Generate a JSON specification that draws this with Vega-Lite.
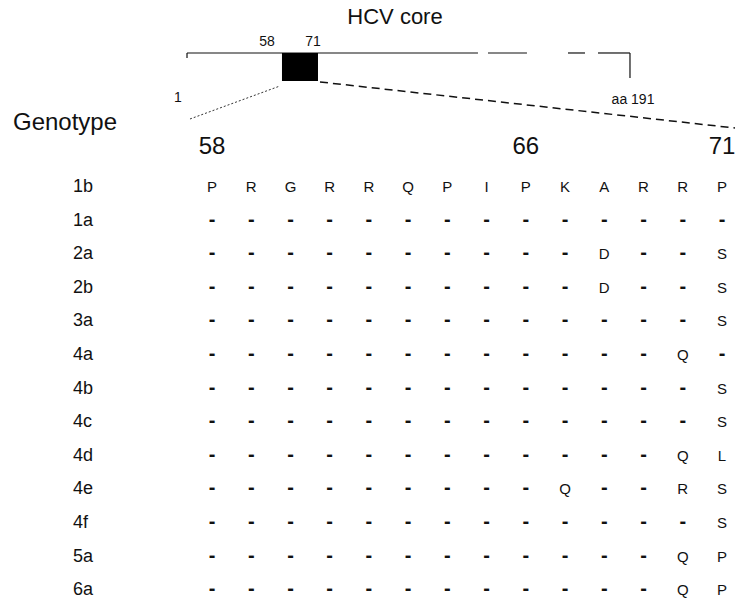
{
  "$schema": "https://vega.github.io/schema/vega-lite/v6.json",
  "width": 737,
  "height": 600,
  "padding": 0,
  "autosize": {"type": "none"},
  "background": "white",
  "config": {"view": {"stroke": null}, "text": {"font": "Liberation Sans", "color": "#111"}},
  "datasets": {
    "cells": [
      {"g":"1b","i":0,"p":58,"a":"P"},{"g":"1b","i":0,"p":59,"a":"R"},{"g":"1b","i":0,"p":60,"a":"G"},{"g":"1b","i":0,"p":61,"a":"R"},{"g":"1b","i":0,"p":62,"a":"R"},{"g":"1b","i":0,"p":63,"a":"Q"},{"g":"1b","i":0,"p":64,"a":"P"},{"g":"1b","i":0,"p":65,"a":"I"},{"g":"1b","i":0,"p":66,"a":"P"},{"g":"1b","i":0,"p":67,"a":"K"},{"g":"1b","i":0,"p":68,"a":"A"},{"g":"1b","i":0,"p":69,"a":"R"},{"g":"1b","i":0,"p":70,"a":"R"},{"g":"1b","i":0,"p":71,"a":"P"},
      {"g":"1a","i":1,"p":58,"a":"-"},{"g":"1a","i":1,"p":59,"a":"-"},{"g":"1a","i":1,"p":60,"a":"-"},{"g":"1a","i":1,"p":61,"a":"-"},{"g":"1a","i":1,"p":62,"a":"-"},{"g":"1a","i":1,"p":63,"a":"-"},{"g":"1a","i":1,"p":64,"a":"-"},{"g":"1a","i":1,"p":65,"a":"-"},{"g":"1a","i":1,"p":66,"a":"-"},{"g":"1a","i":1,"p":67,"a":"-"},{"g":"1a","i":1,"p":68,"a":"-"},{"g":"1a","i":1,"p":69,"a":"-"},{"g":"1a","i":1,"p":70,"a":"-"},{"g":"1a","i":1,"p":71,"a":"-"},
      {"g":"2a","i":2,"p":58,"a":"-"},{"g":"2a","i":2,"p":59,"a":"-"},{"g":"2a","i":2,"p":60,"a":"-"},{"g":"2a","i":2,"p":61,"a":"-"},{"g":"2a","i":2,"p":62,"a":"-"},{"g":"2a","i":2,"p":63,"a":"-"},{"g":"2a","i":2,"p":64,"a":"-"},{"g":"2a","i":2,"p":65,"a":"-"},{"g":"2a","i":2,"p":66,"a":"-"},{"g":"2a","i":2,"p":67,"a":"-"},{"g":"2a","i":2,"p":68,"a":"D"},{"g":"2a","i":2,"p":69,"a":"-"},{"g":"2a","i":2,"p":70,"a":"-"},{"g":"2a","i":2,"p":71,"a":"S"},
      {"g":"2b","i":3,"p":58,"a":"-"},{"g":"2b","i":3,"p":59,"a":"-"},{"g":"2b","i":3,"p":60,"a":"-"},{"g":"2b","i":3,"p":61,"a":"-"},{"g":"2b","i":3,"p":62,"a":"-"},{"g":"2b","i":3,"p":63,"a":"-"},{"g":"2b","i":3,"p":64,"a":"-"},{"g":"2b","i":3,"p":65,"a":"-"},{"g":"2b","i":3,"p":66,"a":"-"},{"g":"2b","i":3,"p":67,"a":"-"},{"g":"2b","i":3,"p":68,"a":"D"},{"g":"2b","i":3,"p":69,"a":"-"},{"g":"2b","i":3,"p":70,"a":"-"},{"g":"2b","i":3,"p":71,"a":"S"},
      {"g":"3a","i":4,"p":58,"a":"-"},{"g":"3a","i":4,"p":59,"a":"-"},{"g":"3a","i":4,"p":60,"a":"-"},{"g":"3a","i":4,"p":61,"a":"-"},{"g":"3a","i":4,"p":62,"a":"-"},{"g":"3a","i":4,"p":63,"a":"-"},{"g":"3a","i":4,"p":64,"a":"-"},{"g":"3a","i":4,"p":65,"a":"-"},{"g":"3a","i":4,"p":66,"a":"-"},{"g":"3a","i":4,"p":67,"a":"-"},{"g":"3a","i":4,"p":68,"a":"-"},{"g":"3a","i":4,"p":69,"a":"-"},{"g":"3a","i":4,"p":70,"a":"-"},{"g":"3a","i":4,"p":71,"a":"S"},
      {"g":"4a","i":5,"p":58,"a":"-"},{"g":"4a","i":5,"p":59,"a":"-"},{"g":"4a","i":5,"p":60,"a":"-"},{"g":"4a","i":5,"p":61,"a":"-"},{"g":"4a","i":5,"p":62,"a":"-"},{"g":"4a","i":5,"p":63,"a":"-"},{"g":"4a","i":5,"p":64,"a":"-"},{"g":"4a","i":5,"p":65,"a":"-"},{"g":"4a","i":5,"p":66,"a":"-"},{"g":"4a","i":5,"p":67,"a":"-"},{"g":"4a","i":5,"p":68,"a":"-"},{"g":"4a","i":5,"p":69,"a":"-"},{"g":"4a","i":5,"p":70,"a":"Q"},{"g":"4a","i":5,"p":71,"a":"-"},
      {"g":"4b","i":6,"p":58,"a":"-"},{"g":"4b","i":6,"p":59,"a":"-"},{"g":"4b","i":6,"p":60,"a":"-"},{"g":"4b","i":6,"p":61,"a":"-"},{"g":"4b","i":6,"p":62,"a":"-"},{"g":"4b","i":6,"p":63,"a":"-"},{"g":"4b","i":6,"p":64,"a":"-"},{"g":"4b","i":6,"p":65,"a":"-"},{"g":"4b","i":6,"p":66,"a":"-"},{"g":"4b","i":6,"p":67,"a":"-"},{"g":"4b","i":6,"p":68,"a":"-"},{"g":"4b","i":6,"p":69,"a":"-"},{"g":"4b","i":6,"p":70,"a":"-"},{"g":"4b","i":6,"p":71,"a":"S"},
      {"g":"4c","i":7,"p":58,"a":"-"},{"g":"4c","i":7,"p":59,"a":"-"},{"g":"4c","i":7,"p":60,"a":"-"},{"g":"4c","i":7,"p":61,"a":"-"},{"g":"4c","i":7,"p":62,"a":"-"},{"g":"4c","i":7,"p":63,"a":"-"},{"g":"4c","i":7,"p":64,"a":"-"},{"g":"4c","i":7,"p":65,"a":"-"},{"g":"4c","i":7,"p":66,"a":"-"},{"g":"4c","i":7,"p":67,"a":"-"},{"g":"4c","i":7,"p":68,"a":"-"},{"g":"4c","i":7,"p":69,"a":"-"},{"g":"4c","i":7,"p":70,"a":"-"},{"g":"4c","i":7,"p":71,"a":"S"},
      {"g":"4d","i":8,"p":58,"a":"-"},{"g":"4d","i":8,"p":59,"a":"-"},{"g":"4d","i":8,"p":60,"a":"-"},{"g":"4d","i":8,"p":61,"a":"-"},{"g":"4d","i":8,"p":62,"a":"-"},{"g":"4d","i":8,"p":63,"a":"-"},{"g":"4d","i":8,"p":64,"a":"-"},{"g":"4d","i":8,"p":65,"a":"-"},{"g":"4d","i":8,"p":66,"a":"-"},{"g":"4d","i":8,"p":67,"a":"-"},{"g":"4d","i":8,"p":68,"a":"-"},{"g":"4d","i":8,"p":69,"a":"-"},{"g":"4d","i":8,"p":70,"a":"Q"},{"g":"4d","i":8,"p":71,"a":"L"},
      {"g":"4e","i":9,"p":58,"a":"-"},{"g":"4e","i":9,"p":59,"a":"-"},{"g":"4e","i":9,"p":60,"a":"-"},{"g":"4e","i":9,"p":61,"a":"-"},{"g":"4e","i":9,"p":62,"a":"-"},{"g":"4e","i":9,"p":63,"a":"-"},{"g":"4e","i":9,"p":64,"a":"-"},{"g":"4e","i":9,"p":65,"a":"-"},{"g":"4e","i":9,"p":66,"a":"-"},{"g":"4e","i":9,"p":67,"a":"Q"},{"g":"4e","i":9,"p":68,"a":"-"},{"g":"4e","i":9,"p":69,"a":"-"},{"g":"4e","i":9,"p":70,"a":"R"},{"g":"4e","i":9,"p":71,"a":"S"},
      {"g":"4f","i":10,"p":58,"a":"-"},{"g":"4f","i":10,"p":59,"a":"-"},{"g":"4f","i":10,"p":60,"a":"-"},{"g":"4f","i":10,"p":61,"a":"-"},{"g":"4f","i":10,"p":62,"a":"-"},{"g":"4f","i":10,"p":63,"a":"-"},{"g":"4f","i":10,"p":64,"a":"-"},{"g":"4f","i":10,"p":65,"a":"-"},{"g":"4f","i":10,"p":66,"a":"-"},{"g":"4f","i":10,"p":67,"a":"-"},{"g":"4f","i":10,"p":68,"a":"-"},{"g":"4f","i":10,"p":69,"a":"-"},{"g":"4f","i":10,"p":70,"a":"-"},{"g":"4f","i":10,"p":71,"a":"S"},
      {"g":"5a","i":11,"p":58,"a":"-"},{"g":"5a","i":11,"p":59,"a":"-"},{"g":"5a","i":11,"p":60,"a":"-"},{"g":"5a","i":11,"p":61,"a":"-"},{"g":"5a","i":11,"p":62,"a":"-"},{"g":"5a","i":11,"p":63,"a":"-"},{"g":"5a","i":11,"p":64,"a":"-"},{"g":"5a","i":11,"p":65,"a":"-"},{"g":"5a","i":11,"p":66,"a":"-"},{"g":"5a","i":11,"p":67,"a":"-"},{"g":"5a","i":11,"p":68,"a":"-"},{"g":"5a","i":11,"p":69,"a":"-"},{"g":"5a","i":11,"p":70,"a":"Q"},{"g":"5a","i":11,"p":71,"a":"P"},
      {"g":"6a","i":12,"p":58,"a":"-"},{"g":"6a","i":12,"p":59,"a":"-"},{"g":"6a","i":12,"p":60,"a":"-"},{"g":"6a","i":12,"p":61,"a":"-"},{"g":"6a","i":12,"p":62,"a":"-"},{"g":"6a","i":12,"p":63,"a":"-"},{"g":"6a","i":12,"p":64,"a":"-"},{"g":"6a","i":12,"p":65,"a":"-"},{"g":"6a","i":12,"p":66,"a":"-"},{"g":"6a","i":12,"p":67,"a":"-"},{"g":"6a","i":12,"p":68,"a":"-"},{"g":"6a","i":12,"p":69,"a":"-"},{"g":"6a","i":12,"p":70,"a":"Q"},{"g":"6a","i":12,"p":71,"a":"P"}
    ],
    "solid": [
      {"x":57.363,"x2":64.78,"y":-3.988,"y2":-3.988},
      {"x":65.035,"x2":66.029,"y":-3.988,"y2":-3.988},
      {"x":67.074,"x2":67.508,"y":-3.988,"y2":-3.988},
      {"x":67.84,"x2":68.655,"y":-3.988,"y2":-3.988},
      {"x":57.363,"x2":57.363,"y":-3.988,"y2":-3.839},
      {"x":68.655,"x2":68.655,"y":-3.988,"y2":-3.244}
    ],
    "dotted": [{"x":57.439,"x2":59.733,"y":-2.024,"y2":-3.006}],
    "dashed": [{"x":60.753,"x2":71.332,"y":-3.125,"y2":-1.756}],
    "box": [{"x":59.784,"x2":60.702,"y":-3.988,"y2":-3.155}],
    "title": [{"t":"HCV core","x":62.665,"y":-5.06}],
    "small": [
      {"t":"58","x":59.402,"y":-4.315},
      {"t":"71","x":60.575,"y":-4.315},
      {"t":"1","x":57.133,"y":-2.649},
      {"t":"aa 191","x":68.732,"y":-2.589}
    ],
    "word": [{"t":"Genotype","x":52.927,"y":-1.905}],
    "big": [{"p":58},{"p":66},{"p":71}]
  },
  "layer": [
    {
      "data": {"name": "solid"},
      "mark": {"type": "rule", "color": "#111", "strokeWidth": 1.2},
      "encoding": {
        "x": {"field": "x", "type": "quantitative", "scale": {"domain": [52.596, 71.383], "nice": false, "zero": false}, "axis": null},
        "x2": {"field": "x2"},
        "y": {"field": "y", "type": "quantitative", "scale": {"domain": [-5.565, 12.292], "reverse": true, "nice": false, "zero": false}, "axis": null},
        "y2": {"field": "y2"}
      }
    },
    {
      "data": {"name": "dotted"},
      "mark": {"type": "rule", "color": "#333", "strokeWidth": 1, "strokeDash": [2, 2]},
      "encoding": {
        "x": {"field": "x", "type": "quantitative"}, "x2": {"field": "x2"},
        "y": {"field": "y", "type": "quantitative"}, "y2": {"field": "y2"}
      }
    },
    {
      "data": {"name": "dashed"},
      "mark": {"type": "rule", "color": "#111", "strokeWidth": 1.5, "strokeDash": [8, 5]},
      "encoding": {
        "x": {"field": "x", "type": "quantitative"}, "x2": {"field": "x2"},
        "y": {"field": "y", "type": "quantitative"}, "y2": {"field": "y2"}
      }
    },
    {
      "data": {"name": "box"},
      "mark": {"type": "rect", "color": "#000"},
      "encoding": {
        "x": {"field": "x", "type": "quantitative"}, "x2": {"field": "x2"},
        "y": {"field": "y", "type": "quantitative"}, "y2": {"field": "y2"}
      }
    },
    {
      "data": {"name": "title"},
      "mark": {"type": "text", "fontSize": 22, "align": "center", "baseline": "middle"},
      "encoding": {
        "x": {"field": "x", "type": "quantitative"},
        "y": {"field": "y", "type": "quantitative"},
        "text": {"field": "t"}
      }
    },
    {
      "data": {"name": "small"},
      "mark": {"type": "text", "fontSize": 14, "align": "center", "baseline": "middle"},
      "encoding": {
        "x": {"field": "x", "type": "quantitative"},
        "y": {"field": "y", "type": "quantitative"},
        "text": {"field": "t"}
      }
    },
    {
      "data": {"name": "word"},
      "mark": {"type": "text", "fontSize": 24, "align": "left", "baseline": "middle"},
      "encoding": {
        "x": {"field": "x", "type": "quantitative"},
        "y": {"field": "y", "type": "quantitative"},
        "text": {"field": "t"}
      }
    },
    {
      "data": {"name": "big"},
      "mark": {"type": "text", "fontSize": 24, "align": "center", "baseline": "middle"},
      "encoding": {
        "x": {"field": "p", "type": "quantitative"},
        "y": {"datum": -1.19, "type": "quantitative"},
        "text": {"field": "p", "type": "nominal"}
      }
    },
    {
      "data": {"name": "cells"},
      "transform": [{"filter": "datum.p === 58"}],
      "mark": {"type": "text", "fontSize": 18, "align": "left", "baseline": "middle"},
      "encoding": {
        "x": {"datum": 54.457, "type": "quantitative"},
        "y": {"field": "i", "type": "quantitative"},
        "text": {"field": "g", "type": "nominal"}
      }
    },
    {
      "data": {"name": "cells"},
      "transform": [{"filter": "datum.a !== '-'"}],
      "mark": {"type": "text", "fontSize": 15, "align": "center", "baseline": "middle"},
      "encoding": {
        "x": {"field": "p", "type": "quantitative"},
        "y": {"field": "i", "type": "quantitative"},
        "text": {"field": "a", "type": "nominal"}
      }
    },
    {
      "data": {"name": "cells"},
      "transform": [{"filter": "datum.a === '-'"}],
      "mark": {"type": "text", "fontSize": 20, "fontWeight": "bold", "align": "center", "baseline": "middle", "dy": -1},
      "encoding": {
        "x": {"field": "p", "type": "quantitative"},
        "y": {"field": "i", "type": "quantitative"},
        "text": {"field": "a", "type": "nominal"}
      }
    }
  ]
}
